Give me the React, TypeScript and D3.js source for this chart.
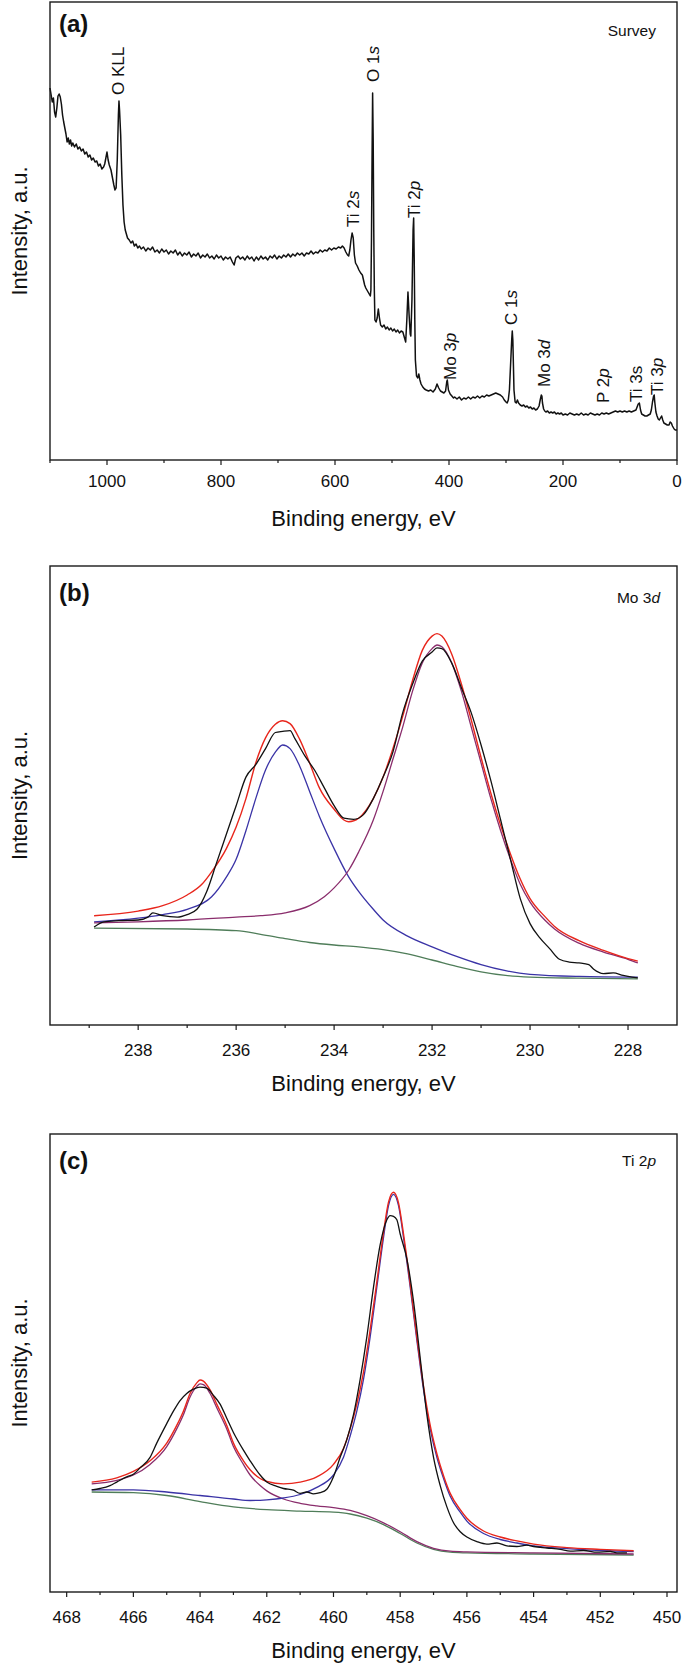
import React from "react";
import * as d3 from "d3";

// ---------- DATA ----------
// Panel (a): survey spectrum [binding energy eV, intensity a.u.]
const surveyData: [number, number][] = [
  [1100, 372], [1098, 365], [1096, 358], [1094, 362], [1092, 348], [1090, 343], [1088, 352], [1086, 364],
  [1084, 366], [1082, 363], [1080, 356], [1078, 345], [1076, 338], [1074, 332], [1072, 326], [1070, 318],
  [1068, 322], [1066, 316], [1064, 320], [1062, 314], [1060, 317], [1057, 313], [1054, 316], [1051, 311],
  [1048, 313], [1045, 309], [1042, 311], [1039, 306], [1036, 308], [1033, 303], [1030, 305], [1027, 300],
  [1024, 302], [1021, 298], [1018, 299], [1015, 294], [1012, 296], [1009, 291], [1006, 293], [1004, 296],
  [1002, 302], [1000, 308], [998, 300], [996, 295], [993, 290], [990, 281], [988, 275], [986, 270],
  [984, 272], [982, 300], [980, 345], [979, 359], [978, 350], [976, 325], [974, 285], [972, 255],
  [970, 238], [968, 230], [966, 226], [964, 222], [961, 220], [958, 217], [955, 219], [952, 214],
  [949, 216], [946, 212], [943, 214], [940, 211], [936, 213], [932, 209], [928, 212], [924, 210],
  [920, 213], [916, 208], [912, 210], [908, 207], [904, 211], [900, 208], [896, 210], [892, 206],
  [888, 209], [884, 207], [880, 210], [876, 205], [872, 208], [868, 204], [864, 207], [860, 205],
  [856, 208], [852, 203], [848, 206], [844, 204], [840, 207], [836, 202], [832, 205], [828, 203],
  [824, 206], [820, 202], [816, 204], [812, 201], [808, 205], [804, 202], [800, 204], [796, 200],
  [792, 203], [788, 201], [784, 203], [780, 198], [777, 195], [774, 202], [770, 204], [766, 201],
  [762, 203], [758, 200], [754, 204], [750, 201], [746, 203], [742, 199], [738, 203], [734, 200],
  [730, 204], [726, 201], [722, 203], [718, 200], [714, 204], [710, 202], [706, 205], [702, 201],
  [698, 204], [694, 202], [690, 205], [686, 203], [682, 206], [678, 203], [674, 206], [670, 204],
  [666, 207], [662, 205], [658, 207], [654, 204], [650, 207], [646, 206], [642, 209], [638, 206],
  [634, 208], [630, 207], [626, 210], [622, 208], [618, 210], [614, 209], [610, 212], [606, 210],
  [602, 212], [598, 211], [594, 213], [590, 212], [587, 214], [584, 212], [581, 208], [578, 205],
  [576, 204], [574, 210], [572, 220], [570, 227], [568, 222], [566, 205], [564, 197], [561, 194],
  [558, 190], [555, 187], [552, 185], [550, 180], [548, 175], [546, 172], [544, 170], [542, 168],
  [540, 166], [538, 164], [537, 170], [536, 220], [535, 300], [534, 367], [533, 320], [532, 230],
  [531, 170], [530, 140], [528, 138], [526, 142], [524, 151], [522, 142], [520, 135], [517, 133],
  [514, 135], [511, 131], [508, 133], [505, 130], [502, 132], [499, 129], [496, 131], [493, 128],
  [490, 130], [487, 127], [484, 129], [481, 128], [478, 122], [476, 118], [474, 140], [472, 168],
  [470, 145], [468, 126], [467, 124], [465, 160], [463, 230], [462, 242], [461, 200], [460, 140],
  [459, 100], [457, 84], [455, 82], [453, 86], [451, 80], [449, 76], [446, 73], [443, 71],
  [440, 70], [436, 69], [432, 70], [428, 68], [424, 71], [421, 76], [418, 72], [415, 69],
  [412, 68], [409, 67], [406, 69], [404, 78], [403, 80], [401, 70], [398, 66], [395, 64],
  [392, 62], [390, 63], [386, 61], [382, 63], [378, 60], [374, 62], [370, 61], [366, 63],
  [362, 61], [358, 63], [354, 62], [350, 64], [346, 62], [342, 64], [338, 63], [334, 65],
  [330, 64], [326, 65], [322, 66], [318, 67], [314, 66], [310, 65], [306, 63], [303, 60],
  [300, 58], [298, 57], [296, 60], [294, 70], [292, 95], [290, 120], [289, 129], [288, 120],
  [287, 95], [286, 70], [284, 58], [282, 57], [280, 60], [278, 57], [275, 55], [272, 54],
  [269, 55], [266, 53], [263, 54], [260, 52], [257, 53], [254, 51], [251, 52], [248, 50],
  [245, 51], [242, 54], [240, 60], [238, 65], [237, 64], [236, 57], [234, 51], [232, 49],
  [230, 48], [227, 49], [224, 47], [221, 48], [218, 47], [215, 48], [212, 46], [209, 47],
  [206, 46], [203, 47], [200, 45], [196, 46], [192, 45], [188, 47], [184, 46], [180, 45],
  [176, 46], [172, 45], [168, 47], [164, 45], [160, 46], [156, 45], [152, 47], [148, 46],
  [144, 45], [140, 46], [136, 45], [132, 47], [128, 46], [124, 47], [120, 46], [116, 47],
  [112, 48], [108, 49], [104, 48], [100, 49], [96, 48], [92, 49], [88, 48], [84, 49],
  [80, 48], [76, 49], [72, 50], [70, 53], [68, 56], [66, 57], [64, 50], [62, 46],
  [59, 45], [56, 44], [53, 44], [50, 45], [47, 46], [45, 50], [43, 58], [41, 64],
  [40, 65], [39, 58], [37, 48], [35, 44], [33, 41], [31, 40], [29, 42], [27, 44],
  [25, 40], [23, 37], [20, 36], [17, 35], [14, 35], [12, 38], [10, 37], [8, 34],
  [5, 31], [3, 30], [0, 30],
];

// Peak annotations in (a): [main text, italic suffix, energy eV, intensity at text start]
const surveyLabels: [string, string, number, number][] = [
  ["O KLL", "", 981, 365],
  ["O 1", "s", 533, 378],
  ["Ti 2", "s", 568, 233],
  ["Ti 2", "p", 461, 242],
  ["Mo 3", "p", 398, 80],
  ["C 1", "s", 291, 135],
  ["Mo 3", "d", 233, 73],
  ["P 2", "p", 130, 57],
  ["Ti 3s", "", 72, 58],
  ["Ti 3", "p", 35, 65],
];

// Panel (b): Mo 3d
const moExp: [number, number][] = [
  [238.9, 97.9], [238.7, 103.2], [238.4, 104.3], [238.0, 105], [237.8, 107.9], [237.7, 112.1],
  [237.5, 109.3], [237.2, 107.9], [237.0, 110.4], [236.8, 115.7], [236.6, 133.6], [236.4, 162.1],
  [236.2, 190.7], [236.0, 219.3], [235.8, 247.9], [235.6, 260.4], [235.4, 276.4], [235.2, 292.5],
  [235.05, 293.6], [234.9, 294.3], [234.8, 286.4], [234.6, 269.3], [234.4, 255], [234.2, 237.1],
  [234.0, 219.3], [233.8, 206.8], [233.6, 205.7], [233.4, 210.4], [233.2, 226.4], [233.0, 247.9],
  [232.8, 272.9], [232.6, 312.1], [232.4, 340.7], [232.2, 363.9], [232.0, 372.9], [231.9, 377.1],
  [231.8, 376.4], [231.6, 362.1], [231.4, 337.1], [231.2, 312.1], [231.0, 280], [230.8, 244.3],
  [230.6, 205], [230.4, 165.7], [230.2, 126.4], [230.0, 101.4], [229.8, 87.1], [229.6, 76.4],
  [229.4, 65.7], [229.2, 62.9], [229.0, 62.1], [228.8, 60.4], [228.7, 55.7], [228.5, 51.4],
  [228.3, 52.1], [228.1, 49.6], [228.0, 48.6], [227.8, 47.1],
];
const moSum: [number, number][] = [
  [238.9, 109.3], [238.0, 113.9], [237.5, 119.3], [237.0, 130], [236.7, 140.7], [236.5, 153.2],
  [236.2, 176.4], [236.0, 197.9], [235.8, 226.4], [235.6, 262.1], [235.4, 287.1], [235.2, 300.7],
  [235.05, 304.3], [234.9, 301.4], [234.7, 285.4], [234.5, 262.1], [234.3, 237.1], [234.0, 215.7],
  [233.8, 205], [233.7, 203.2], [233.5, 206.8], [233.2, 226.4], [233.0, 247.9], [232.8, 276.4],
  [232.6, 308.6], [232.4, 344.3], [232.2, 374.6], [232.0, 388.9], [231.9, 391.4], [231.8, 388.9],
  [231.6, 371.1], [231.4, 340.7], [231.2, 305], [231.0, 267.5], [230.8, 231.8], [230.6, 199.6],
  [230.4, 171.1], [230.2, 146], [230.0, 126.4], [229.7, 108.6], [229.5, 98.6], [229.0, 84.3],
  [228.5, 74.6], [228.0, 66.4], [227.8, 63.9],
];
const moPeakHigh: [number, number][] = [
  [238.9, 103.2], [238.0, 106.8], [237.5, 110.4], [237.0, 115.7], [236.5, 128.2], [236.2, 147.9],
  [236.0, 165.7], [235.8, 194.3], [235.6, 226.4], [235.4, 255], [235.2, 272.9], [235.05, 280],
  [234.9, 276.4], [234.7, 258.6], [234.5, 233.6], [234.3, 208.6], [234.0, 176.4], [233.7, 147.9],
  [233.5, 133.6], [233.2, 115.7], [233.0, 105], [232.5, 88.9], [232.0, 78.2], [231.5, 68.6],
  [231.0, 60.4], [230.5, 54.3], [230.0, 50.7], [229.0, 48.6], [227.8, 47.9],
];
const moPeakLow: [number, number][] = [
  [238.9, 102.1], [238.0, 103.2], [237.0, 105], [236.0, 107.9], [235.5, 109.3], [235.0, 112.1],
  [234.5, 119.3], [234.2, 128.2], [234.0, 137.1], [233.7, 155], [233.5, 172.9], [233.2, 205],
  [233.0, 233.6], [232.8, 265.7], [232.6, 297.9], [232.4, 333.6], [232.2, 362.1], [232.0, 376.4],
  [231.9, 380], [231.8, 378.2], [231.6, 362.1], [231.4, 333.6], [231.2, 297.9], [231.0, 262.1],
  [230.8, 226.4], [230.6, 194.3], [230.4, 165.7], [230.2, 140.7], [230.0, 122.9], [229.7, 105],
  [229.5, 96.1], [229.0, 81.8], [228.5, 72.9], [228.0, 65.7], [227.8, 62.1],
];
const moBackground: [number, number][] = [
  [238.9, 96.8], [237.0, 96], [236.0, 94.3], [235.5, 90.7], [235.0, 86.4], [234.5, 82.5],
  [234.0, 80], [233.5, 78.2], [233.0, 75.4], [232.5, 71.1], [232.0, 65], [231.5, 58.6],
  [231.0, 53.2], [230.5, 49.6], [230.0, 47.9], [229.0, 46.8], [227.8, 46.1],
];

// Panel (c): Ti 2p
const tiExp: [number, number][] = [
  [467.25, 102.1], [467.0, 103.5], [466.7, 106.4], [466.5, 109.9], [466.2, 115.2], [466.0, 117.7],
  [465.8, 124.1], [465.5, 134.7], [465.3, 148.9], [465.0, 168.4], [464.8, 180.8], [464.6, 191.4],
  [464.4, 198.5], [464.2, 202.8], [464.0, 204.9], [463.8, 203.8], [463.6, 196.7], [463.4, 187.9],
  [463.2, 173.7], [463.0, 159.5], [462.7, 141.8], [462.5, 131.2], [462.2, 117], [462.0, 109.9],
  [461.7, 105.7], [461.5, 103.5], [461.2, 101.8], [461.0, 98.6], [460.8, 100], [460.6, 98.2],
  [460.4, 99.3], [460.2, 102.8], [460.0, 115.2], [459.8, 134.7], [459.6, 152.4], [459.4, 177.3],
  [459.2, 212.7], [459.0, 255.2], [458.8, 304.8], [458.6, 347.3], [458.4, 372.2], [458.3, 376.4],
  [458.2, 375.7], [458.1, 372.2], [458.0, 358], [457.8, 333.2], [457.6, 290.6], [457.4, 234],
  [457.2, 177.3], [457.0, 134.7], [456.8, 106.4], [456.6, 85.1], [456.4, 69.2], [456.2, 60.3],
  [456.0, 55], [455.7, 50.4], [455.4, 47.9], [455.1, 49], [454.8, 46.1], [454.5, 45.5],
  [454.2, 46.9], [454.0, 45.5], [453.6, 44], [453.2, 42.6], [452.9, 40.8], [452.5, 41.5],
  [452.1, 39.8], [451.7, 40.5], [451.5, 39.1], [451.2, 39.1],
];
const tiSum: [number, number][] = [
  [467.25, 109.9], [466.5, 114.2], [466.0, 120.6], [465.5, 131.2], [465.0, 148.9], [464.7, 166.6],
  [464.5, 180.8], [464.3, 198.5], [464.1, 209.1], [464.0, 212], [463.9, 210.9], [463.7, 202.1],
  [463.5, 187.9], [463.2, 166.6], [463.0, 148.9], [462.7, 131.2], [462.5, 122.3], [462.2, 113.5],
  [462.0, 110.6], [461.5, 108.1], [461.0, 109.9], [460.5, 115.2], [460.0, 127.6], [459.7, 143.6],
  [459.5, 163.1], [459.3, 187.9], [459.1, 219.8], [458.9, 262.3], [458.7, 310.1], [458.5, 359.7],
  [458.35, 389.9], [458.2, 399.8], [458.05, 389.2], [457.9, 358], [457.7, 308.4], [457.5, 255.2],
  [457.3, 205.6], [457.1, 166.6], [456.9, 138.3], [456.7, 116.3], [456.5, 98.6], [456.2, 82.3],
  [456.0, 73.8], [455.5, 61], [455.0, 55], [454.5, 51.1], [454.0, 47.9], [453.0, 44.4],
  [452.0, 42.6], [451.0, 41.2],
];
const tiPeak12: [number, number][] = [
  [467.25, 108.2], [466.5, 111.7], [466.0, 117], [465.5, 127.6], [465.0, 145.4], [464.7, 163.1],
  [464.5, 177.3], [464.3, 195], [464.1, 205.6], [464.0, 208.1], [463.9, 207.4], [463.7, 198.5],
  [463.5, 184.3], [463.2, 163.1], [463.0, 145.4], [462.7, 127.6], [462.5, 117], [462.2, 106.4],
  [462.0, 101.1], [461.5, 93], [461.0, 88.7], [460.5, 86.2], [460.0, 84.4], [459.5, 81.6],
  [459.0, 76.3], [458.5, 69.2], [458.0, 60.3], [457.5, 50.4], [457.0, 43.7], [456.5, 40.8],
  [456.0, 40.1], [454.0, 39.1], [451.0, 38],
];
const tiPeak32: [number, number][] = [
  [467.25, 102.1], [466.0, 102.1], [465.0, 100], [464.0, 96.5], [463.0, 93], [462.5, 91.5],
  [462.0, 92.2], [461.5, 94], [461.0, 97.5], [460.5, 104.6], [460.0, 117], [459.7, 134.7],
  [459.5, 156], [459.3, 180.8], [459.1, 212.7], [458.9, 255.2], [458.7, 304.8], [458.5, 354.4],
  [458.35, 386.3], [458.2, 397.7], [458.05, 386.3], [457.9, 354.4], [457.7, 304.8], [457.5, 251.7],
  [457.3, 202.1], [457.1, 163.1], [456.9, 134.7], [456.7, 113.5], [456.5, 95.7], [456.2, 79.8],
  [456.0, 70.9], [455.5, 58.5], [455.0, 52.5], [454.5, 49], [454.0, 46.1], [453.0, 43.3],
  [452.0, 41.5], [451.0, 40.5],
];
const tiBackground: [number, number][] = [
  [467.25, 100], [466.0, 99.3], [465.0, 96.5], [464.0, 90.4], [463.0, 85.1], [462.0, 82.3],
  [461.0, 80.9], [460.0, 79.8], [459.5, 78], [459.0, 73.8], [458.5, 67.4], [458.0, 58.5],
  [457.5, 49], [457.0, 42.6], [456.5, 39.8], [456.0, 39.1], [454.0, 38], [451.0, 37],
];

// Axis ticks
const surveyMajor = [1000, 800, 600, 400, 200, 0];
const surveyMinor = [1100, 900, 700, 500, 300, 100];
const moMajor = [238, 236, 234, 232, 230, 228];
const moMinor = [239, 237, 235, 233, 231, 229];
const tiMajor = [468, 466, 464, 462, 460, 458, 456, 454, 452, 450];
const tiMinor = [467, 465, 463, 461, 459, 457, 455, 453, 451];

// ---------- STYLE ----------
const FONT = "'Liberation Sans', Arial, Helvetica, sans-serif";
const COL = {
  exp: "#111111",
  sum: "#e8261c",
  blue: "#3a33a6",
  purple: "#8a2d6c",
  green: "#4f7d59",
};
const LEFT = 50;
const RIGHT = 677;

type Series = { data: [number, number][]; color: string; curve: any; width: number };

function Panel(props: {
  top: number;
  bottom: number;
  xDomain: [number, number];
  yMax: number;
  major: number[];
  minor: number[];
  tickLabelOffset: number;
  letter: string;
  letterBaseline: number;
  tagMain: string;
  tagItalic: string;
  tagBaseline: number;
  tagRight: number;
  series: Series[];
  children?: (x: any, y: any) => React.ReactNode;
}) {
  const { top, bottom } = props;
  const x = d3.scaleLinear().domain(props.xDomain).range([LEFT, RIGHT]);
  const y = d3.scaleLinear().domain([0, props.yMax]).range([bottom, top]);
  const mid = (top + bottom) / 2;
  return (
    <g>
      {props.series.map((s, i) => {
        const line = d3
          .line<[number, number]>()
          .x((d) => x(d[0]))
          .y((d) => y(d[1]))
          .curve(s.curve);
        return (
          <path
            key={i}
            d={line(s.data) || ""}
            fill="none"
            stroke={s.color}
            strokeWidth={s.width}
            strokeLinejoin="round"
          />
        );
      })}
      {props.children && props.children(x, y)}
      <rect
        x={LEFT}
        y={top}
        width={RIGHT - LEFT}
        height={bottom - top}
        fill="none"
        stroke="#1a1a1a"
        strokeWidth={1.4}
      />
      {props.major.map((t) => (
        <g key={"M" + t}>
          <line x1={x(t)} x2={x(t)} y1={bottom} y2={bottom + 5} stroke="#1a1a1a" strokeWidth={1.2} />
          <text
            x={x(t)}
            y={bottom + props.tickLabelOffset}
            textAnchor="middle"
            fontFamily={FONT}
            fontSize={17}
            fill="#111"
          >
            {t}
          </text>
        </g>
      ))}
      {props.minor.map((t) => (
        <line key={"m" + t} x1={x(t)} x2={x(t)} y1={bottom} y2={bottom + 3} stroke="#1a1a1a" strokeWidth={1.2} />
      ))}
      <text
        x={(LEFT + RIGHT) / 2}
        y={bottom + 66}
        textAnchor="middle"
        fontFamily={FONT}
        fontSize={22}
        fill="#111"
      >
        Binding energy, eV
      </text>
      <text
        transform={`translate(19,${mid}) rotate(-90)`}
        dy="0.35em"
        textAnchor="middle"
        fontFamily={FONT}
        fontSize={22}
        fill="#111"
      >
        Intensity, a.u.
      </text>
      <text x={59} y={props.letterBaseline} fontFamily={FONT} fontSize={24} fontWeight="bold" fill="#111">
        {props.letter}
      </text>
      <text
        x={props.tagRight}
        y={props.tagBaseline}
        textAnchor="end"
        fontFamily={FONT}
        fontSize={15.5}
        fill="#111"
      >
        {props.tagMain}
        {props.tagItalic && <tspan fontStyle="italic">{props.tagItalic}</tspan>}
      </text>
    </g>
  );
}

export default function App() {
  return (
    <div style={{ margin: 0, padding: 0 }}>
      <style>{`body{margin:0;padding:0;background:#fff}`}</style>
      <svg width={685} height={1666} viewBox="0 0 685 1666" style={{ display: "block", background: "#fff" }}>
        <Panel
          top={2}
          bottom={460}
          xDomain={[1100, 0]}
          yMax={458}
          major={surveyMajor}
          minor={surveyMinor}
          tickLabelOffset={27}
          letter="(a)"
          letterBaseline={32}
          tagMain="Survey"
          tagItalic=""
          tagBaseline={36}
          tagRight={656}
          series={[{ data: surveyData, color: COL.exp, curve: d3.curveLinear, width: 1.5 }]}
        >
          {(x, y) =>
            surveyLabels.map(([main, it, e, v], i) => (
              <text
                key={i}
                transform={`translate(${x(e)},${y(v)}) rotate(-90)`}
                dy="0.36em"
                fontFamily={FONT}
                fontSize={17}
                fill="#111"
              >
                {main}
                {it && <tspan fontStyle="italic">{it}</tspan>}
              </text>
            ))
          }
        </Panel>
        <Panel
          top={566}
          bottom={1025}
          xDomain={[239.8, 227]}
          yMax={459}
          major={moMajor}
          minor={moMinor}
          tickLabelOffset={31}
          letter="(b)"
          letterBaseline={601}
          tagMain="Mo 3"
          tagItalic="d"
          tagBaseline={603}
          tagRight={660}
          series={[
            { data: moBackground, color: COL.green, curve: d3.curveMonotoneX, width: 1.3 },
            { data: moPeakHigh, color: COL.blue, curve: d3.curveMonotoneX, width: 1.3 },
            { data: moPeakLow, color: COL.purple, curve: d3.curveMonotoneX, width: 1.3 },
            { data: moSum, color: COL.sum, curve: d3.curveMonotoneX, width: 1.4 },
            { data: moExp, color: COL.exp, curve: d3.curveMonotoneX, width: 1.3 },
          ]}
        />
        <Panel
          top={1134}
          bottom={1592}
          xDomain={[468.5, 449.7]}
          yMax={458}
          major={tiMajor}
          minor={tiMinor}
          tickLabelOffset={31}
          letter="(c)"
          letterBaseline={1169}
          tagMain="Ti 2"
          tagItalic="p"
          tagBaseline={1166}
          tagRight={656}
          series={[
            { data: tiBackground, color: COL.green, curve: d3.curveMonotoneX, width: 1.3 },
            { data: tiPeak12, color: COL.purple, curve: d3.curveMonotoneX, width: 1.3 },
            { data: tiPeak32, color: COL.blue, curve: d3.curveMonotoneX, width: 1.3 },
            { data: tiSum, color: COL.sum, curve: d3.curveMonotoneX, width: 1.4 },
            { data: tiExp, color: COL.exp, curve: d3.curveMonotoneX, width: 1.3 },
          ]}
        />
      </svg>
    </div>
  );
}
